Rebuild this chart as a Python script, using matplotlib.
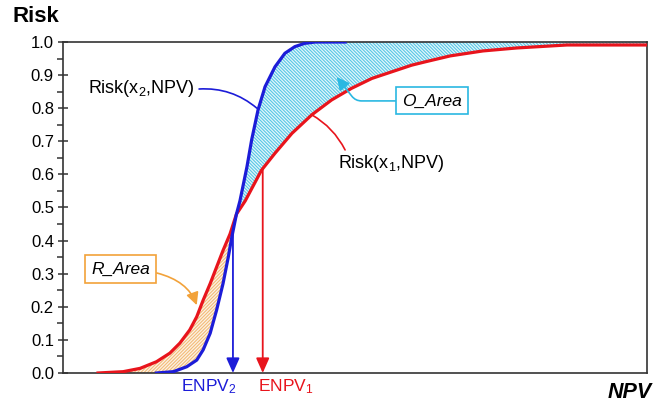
import numpy as np
import matplotlib.pyplot as plt
from matplotlib.ticker import MultipleLocator

plt.rcParams.update({
    'font.family': ['Liberation Sans', 'DejaVu Sans'],
    'mathtext.fontset': 'custom',
    'mathtext.rm': 'Liberation Sans',
    'mathtext.it': 'Liberation Sans:italic',
    'hatch.linewidth': 0.8,
})

# Cumulative risk profiles, NPV on an arbitrary 0-100 scale
npv_x1 = [6.0, 10.3, 13.2, 16.0, 18.3, 20.0, 21.7, 22.9, 24.0, 25.2, 26.3,
          27.4, 28.6, 29.7, 31.2, 34.0, 36.3, 39.2, 42.6, 46.0, 49.4, 52.9,
          56.3, 59.7, 62.0, 66.3, 71.9, 77.7, 86.3, 100.0]
risk_x1 = [0.0, 0.004, 0.014, 0.034, 0.06, 0.09, 0.13, 0.17, 0.22, 0.27, 0.32,
           0.37, 0.42, 0.48, 0.52, 0.613, 0.664, 0.724, 0.78, 0.825, 0.86, 0.89,
           0.91, 0.93, 0.94, 0.958, 0.973, 0.982, 0.991, 0.991]

npv_x2 = [16.0, 18.9, 21.2, 22.9, 24.0, 25.2, 26.3, 27.4, 28.3, 28.9, 29.7,
          30.3, 31.5, 32.3, 33.4, 34.6, 36.3, 38.0, 39.7, 41.4, 43.2, 48.3]
risk_x2 = [0.0, 0.004, 0.019, 0.039, 0.07, 0.12, 0.19, 0.27, 0.35, 0.41, 0.48,
           0.52, 0.623, 0.704, 0.795, 0.865, 0.925, 0.966, 0.986, 0.996, 1.0, 1.0]

enpv1 = 34.2
enpv2 = 29.1
cross = 29.7

red = '#e8141c'
blue = '#1c1cd8'
cyan = '#2ab8e2'
orange = '#f2a23a'

fig = plt.figure(figsize=(6.63, 4.03), dpi=100)
ax = fig.add_axes([63 / 663, 30 / 403, 584 / 663, 331 / 403])

x1 = np.array(npv_x1); r1 = np.array(risk_x1)
x2 = np.array(npv_x2); r2 = np.array(risk_x2)

# R_Area: red above blue, left of the crossing
lo1 = x1 <= cross
lo2 = x2 <= cross
poly_x = np.concatenate([x1[lo1], x2[lo2][::-1]])
poly_y = np.concatenate([r1[lo1], r2[lo2][::-1]])
ax.fill(poly_x, poly_y, facecolor='#fdf3e6', edgecolor='#f3bb78',
        hatch='/' * 10, linewidth=0, zorder=1)

# O_Area: blue above red, right of the crossing
hi1 = x1 >= cross
hi2 = x2 >= cross
poly_x = np.concatenate([x2[hi2], [100.0], x1[hi1][::-1]])
poly_y = np.concatenate([r2[hi2], [1.0], r1[hi1][::-1]])
ax.fill(poly_x, poly_y, facecolor='#e4f6fb', edgecolor='#58c8e6',
        hatch='\\' * 10, linewidth=0, zorder=1)

ax.plot(x1, r1, color=red, lw=2.3, zorder=3)
ax.plot(x2, r2, color=blue, lw=2.3, zorder=3)

# expected NPV drop lines
for xv, xs, ys, c in [(enpv2, x2, r2, blue), (enpv1, x1, r1, red)]:
    top = np.interp(xv, xs, ys)
    ax.annotate('', xy=(xv, 0), xytext=(xv, top),
                arrowprops=dict(arrowstyle='-|>,head_length=0.9,head_width=0.4',
                                color=c, lw=1.3, shrinkA=0, shrinkB=0),
                zorder=4)

ax.text(25.0, -0.042, r'ENPV$_{2}$', color=blue, fontsize=12.5,
        ha='center', va='center', clip_on=False)
ax.text(38.2, -0.042, r'ENPV$_{1}$', color=red, fontsize=12.5,
        ha='center', va='center', clip_on=False)

# curve labels with leader lines
ax.text(4.3, 0.861, r'Risk(x$_{2}$,NPV)', fontsize=13, va='center', ha='left')
ax.annotate('', xy=(33.2, 0.80), xytext=(23.3, 0.858),
            arrowprops=dict(arrowstyle='-', color=blue, lw=1.2,
                            shrinkA=0, shrinkB=0,
                            connectionstyle='arc3,rad=-0.2'))
ax.text(47.1, 0.634, r'Risk(x$_{1}$,NPV)', fontsize=13, va='center', ha='left')
ax.annotate('', xy=(48.3, 0.674), xytext=(42.6, 0.78),
            arrowprops=dict(arrowstyle='-', color=red, lw=1.2,
                            shrinkA=0, shrinkB=0,
                            connectionstyle='arc3,rad=-0.15'))

# area callouts
ax.annotate('O_Area', xy=(46.9, 0.894), xytext=(63.2, 0.822),
            fontsize=12.5, style='italic', va='center', ha='center',
            bbox=dict(boxstyle='square,pad=0.35', fc='white', ec=cyan, lw=1.2),
            arrowprops=dict(arrowstyle='-|>,head_length=0.6,head_width=0.3',
                            color=cyan, lw=1.2, shrinkA=0, shrinkB=0,
                            connectionstyle='angle,angleA=0,angleB=-52,rad=6'),
            zorder=5)
ax.annotate('R_Area', xy=(22.9, 0.205), xytext=(9.9, 0.314),
            fontsize=12.5, style='italic', va='center', ha='center',
            bbox=dict(boxstyle='square,pad=0.35', fc='white', ec=orange, lw=1.2),
            arrowprops=dict(arrowstyle='-|>,head_length=0.6,head_width=0.3',
                            color=orange, lw=1.2, shrinkA=0, shrinkB=0,
                            connectionstyle='angle3,angleA=0,angleB=-70'),
            zorder=5)

ax.set_xlim(0, 100)
ax.set_ylim(0, 1)
ax.set_xticks([])
ax.yaxis.set_major_locator(MultipleLocator(0.1))
ax.yaxis.set_minor_locator(MultipleLocator(0.05))
ax.yaxis.set_major_formatter('{x:.1f}')
ax.tick_params(axis='y', which='major', direction='inout', length=7,
               width=1.1, labelsize=12, color='#333333', pad=3)
ax.tick_params(axis='y', which='minor', direction='out', length=4,
               width=1.1, color='#333333')
for s in ax.spines.values():
    s.set_color('#333333')
    s.set_linewidth(1.2)

fig.text(12 / 663, 1 - 16 / 403, 'Risk', fontsize=16, fontweight='bold',
         va='center', ha='left')
fig.text(652 / 663, 1 - 393 / 403, 'NPV', fontsize=15.5, fontweight='bold',
         style='italic', va='center', ha='right')

fig.savefig('out.png', dpi=100)
